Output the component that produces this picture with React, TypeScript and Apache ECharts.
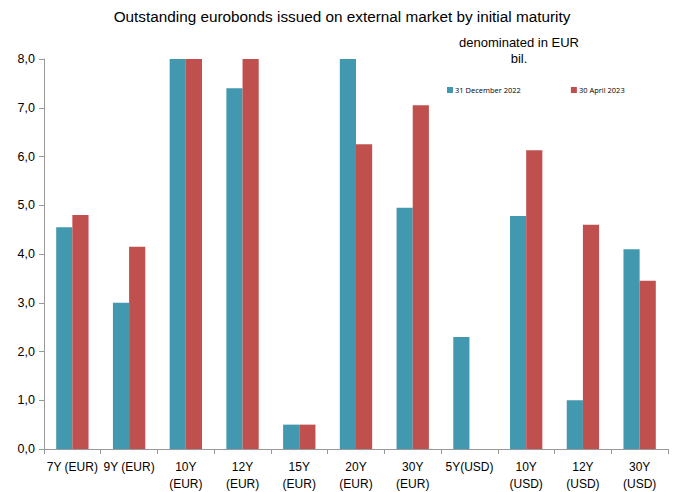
import React, { useEffect, useRef } from "react";
import * as echarts from "echarts";

const categories = [
  "7Y (EUR)", "9Y (EUR)", "10Y\n(EUR)", "12Y\n(EUR)", "15Y\n(EUR)", "20Y\n(EUR)",
  "30Y\n(EUR)", "5Y(USD)", "10Y\n(USD)", "12Y\n(USD)", "30Y\n(USD)",
];
const dec2022 = [4.55, 3.0, 8.0, 7.4, 0.5, 8.0, 4.95, 2.3, 4.78, 1.0, 4.1];
const apr2023: (number | null)[] = [4.8, 4.15, 8.0, 8.0, 0.5, 6.25, 7.05, null, 6.13, 4.6, 3.45];
const seriesNames = ["31 December 2022", "30 April 2023"];
const yTicks = { min: 0, max: 8, interval: 1 };

export default function App() {
  const ref = useRef<HTMLDivElement>(null);
  useEffect(() => {
    const chart = echarts.init(ref.current!, undefined, { renderer: "svg" });
    const font = "Liberation Sans, Arial, sans-serif";
    chart.setOption({
      animation: false,
      textStyle: { fontFamily: font },
      title: [
        {
          text: "Outstanding eurobonds issued on external market by initial maturity",
          left: "center",
          top: 4,
          textStyle: { fontSize: 15.3, fontWeight: "normal", color: "#000", fontFamily: font },
        },
        {
          text: "denominated in EUR\nbil.",
          left: 514,
          textAlign: "center",
          top: 29,
          textStyle: { fontSize: 13, fontWeight: "normal", color: "#000", lineHeight: 16, fontFamily: font },
        },
      ],
      legend: {
        left: 442,
        top: 81,
        itemWidth: 6,
        itemHeight: 6,
        itemGap: 50,
        icon: "rect",
        textStyle: { fontSize: 7.5, color: "#000", fontFamily: "Open Sans, sans-serif", padding: [0, 0, 0, -3] },
        data: seriesNames,
      },
      grid: { left: 44, top: 59, right: 16, bottom: 41, containLabel: false },
      xAxis: {
        type: "category",
        data: categories,
        axisLine: { lineStyle: { color: "#999" } },
        axisTick: { show: true, alignWithLabel: false, length: 5, lineStyle: { color: "#999" } },
        axisLabel: { color: "#000", fontSize: 12, interval: 0, lineHeight: 17, margin: 9, fontFamily: font },
      },
      yAxis: {
        type: "value",
        min: yTicks.min,
        max: yTicks.max,
        interval: yTicks.interval,
        splitLine: { show: false },
        axisLine: { show: true, lineStyle: { color: "#999" } },
        axisTick: { show: true, length: 5, lineStyle: { color: "#999" } },
        axisLabel: {
          color: "#000",
          fontSize: 12.5,
          margin: 9,
          fontFamily: font,
          formatter: (v: number) => v.toFixed(1).replace(".", ","),
        },
      },
      series: [
        {
          name: seriesNames[0],
          type: "bar",
          data: dec2022,
          itemStyle: { color: "#4198AF" },
          barGap: "0%",
          barCategoryGap: "43%",
        },
        {
          name: seriesNames[1],
          type: "bar",
          data: apr2023,
          itemStyle: { color: "#C0504D" },
          barGap: "0%",
          barCategoryGap: "43%",
        },
      ],
    });
    return () => chart.dispose();
  }, []);
  return <div ref={ref} style={{ width: 684, height: 492, position: "absolute", left: 0, top: 0 }} />;
}
